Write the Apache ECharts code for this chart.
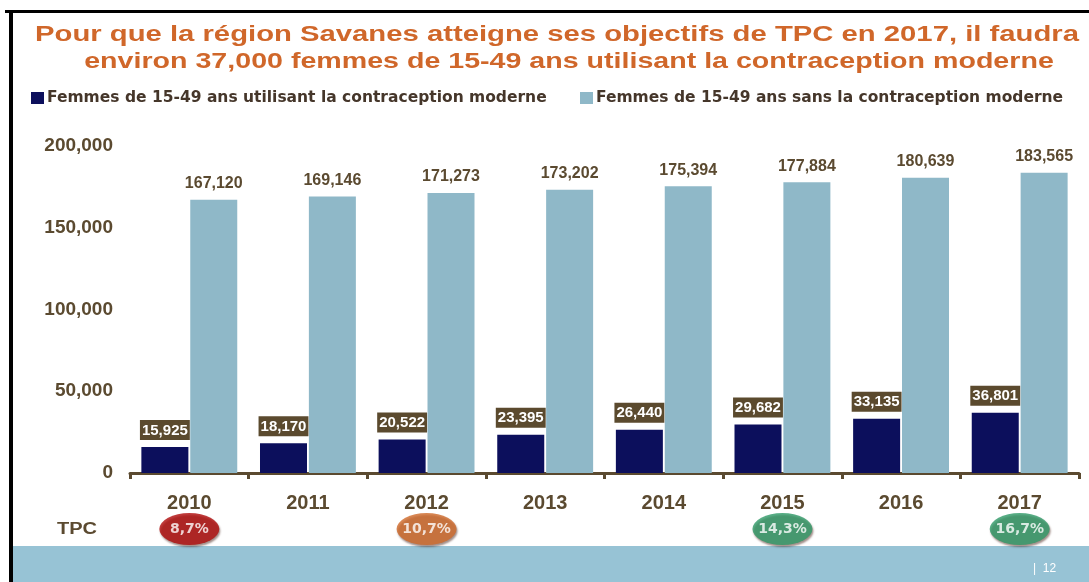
<!DOCTYPE html>
<html>
<head>
<meta charset="utf-8">
<script src="https://cdn.jsdelivr.net/npm/echarts@6/dist/echarts.min.js"></script>
<style>
  html, body { margin: 0; padding: 0; background: #fff; }
  #chart { width: 1089px; height: 582px; }
</style>
</head>
<body>
<div id="chart"></div>
<script>
var years = ['2010', '2011', '2012', '2013', '2014', '2015', '2016', '2017'];
var withContra = [15925, 18170, 20522, 23395, 26440, 29682, 33135, 36801];
var withoutContra = [167120, 169146, 171273, 173202, 175394, 177884, 180639, 183565];
var tpcLabels = ['8,7%', '', '10,7%', '', '', '14,3%', '', '16,7%'];
var tpcColors = ['#b00b0b', '', '#d06a2b', '', '', '#2f9a68', '', '#2f9a68'];
var seriesNames = [
  'Femmes de 15-49 ans utilisant la contraception moderne',
  'Femmes de 15-49 ans sans la contraception moderne'
];

var brown = '#5b4a30';
var font = 'Liberation Sans, Arial, sans-serif';
var wideFont = 'DejaVu Sans, Liberation Sans, sans-serif';

function fmt(v) {
  return String(v).replace(/\B(?=(\d{3})+(?!\d))/g, ',');
}

var tpcData = [];
tpcLabels.forEach(function (t, i) {
  if (t) {
    tpcData.push({
      value: [i, 0],
      label: { formatter: t },
      itemStyle: { color: tpcColors[i] }
    });
  }
});

function legendAt(left, name) {
  return {
    left: left,
    top: 90,
    padding: 0,
    itemWidth: 13,
    itemHeight: 12,
    itemGap: 0,
    icon: 'rect',
    textStyle: { color: '#45362a', fontSize: 15.5, fontWeight: 'bold', fontFamily: wideFont, padding: [0, 0, 0, -2] },
    data: [name]
  };
}

var chart = echarts.init(document.getElementById('chart'));
chart.setOption({
  animation: false,
  textStyle: { fontFamily: font },
  legend: [legendAt(31, seriesNames[0]), legendAt(580, seriesNames[1])],
  grid: [
    { left: 130, right: 10, top: 146, height: 327 },
    { left: 130, right: 10, top: 513, height: 32 }
  ],
  xAxis: [
    {
      type: 'category',
      gridIndex: 0,
      data: years,
      axisLine: { lineStyle: { color: brown, width: 3 } },
      axisTick: { show: true, length: 6, lineStyle: { color: brown, width: 3 } },
      axisLabel: { color: brown, fontSize: 20, fontWeight: 'bold', margin: 20 }
    },
    {
      type: 'category',
      gridIndex: 1,
      data: years,
      show: false
    }
  ],
  yAxis: [
    {
      type: 'value',
      gridIndex: 0,
      min: 0,
      max: 200000,
      interval: 50000,
      axisLine: { show: false },
      axisTick: { show: false },
      splitLine: { show: false },
      axisLabel: { color: brown, fontSize: 19, fontWeight: 'bold', margin: 17, formatter: fmt }
    },
    {
      type: 'value',
      gridIndex: 1,
      min: -1,
      max: 1,
      show: false
    }
  ],
  series: [
    {
      name: seriesNames[0],
      type: 'bar',
      data: withContra,
      barWidth: 47,
      barGap: '4%',
      itemStyle: { color: '#0c0f5c' },
      label: {
        show: true,
        position: 'top',
        distance: 7,
        color: '#fff',
        fontSize: 15,
        fontWeight: 'bold',
        backgroundColor: '#5b4a2e',
        padding: [3, 2, 2, 2],
        formatter: function (p) { return fmt(p.value); }
      }
    },
    {
      name: seriesNames[1],
      type: 'bar',
      data: withoutContra,
      barWidth: 47,
      itemStyle: { color: '#8fb8c8' },
      label: {
        show: true,
        position: 'top',
        distance: 8,
        color: brown,
        fontSize: 16,
        fontWeight: 'bold',
        formatter: function (p) { return fmt(p.value); }
      }
    },
    {
      type: 'scatter',
      xAxisIndex: 1,
      yAxisIndex: 1,
      data: tpcData,
      symbol: 'circle',
      symbolSize: [60, 32],
      itemStyle: { shadowColor: 'rgba(60,20,10,0.6)', shadowOffsetY: 2, shadowOffsetX: 1, shadowBlur: 2 },
      label: { show: true, position: 'inside', color: '#fff', fontSize: 14, fontWeight: 'bold', fontFamily: wideFont }
    }
  ],
  graphic: [
    { type: 'rect', shape: { x: 5, y: 10, width: 1084, height: 3 }, style: { fill: '#000' } },
    { type: 'rect', shape: { x: 9, y: 10, width: 4, height: 572 }, style: { fill: '#000' } },
    { type: 'rect', shape: { x: 13, y: 546, width: 1076, height: 36 }, style: { fill: '#97c3d5' } },
    {
      type: 'text', x: 557, y: 35, scaleX: 1.33,
      style: {
        text: 'Pour que la région Savanes atteigne ses objectifs de TPC en 2017, il faudra',
        fill: '#d0672a', font: 'bold 22px ' + font, textAlign: 'center', textVerticalAlign: 'middle'
      }
    },
    {
      type: 'text', x: 569, y: 62, scaleX: 1.3,
      style: {
        text: 'environ 37,000 femmes de 15-49 ans utilisant la contraception moderne',
        fill: '#d0672a', font: 'bold 22px ' + font, textAlign: 'center', textVerticalAlign: 'middle'
      }
    },
    {
      type: 'text', x: 57, y: 530, scaleX: 1.25,
      style: { text: 'TPC', fill: brown, font: 'bold 16px ' + font, textVerticalAlign: 'middle' }
    },
    { type: 'text', left: 1033, top: 563, style: { text: '|  12', fill: '#fff', font: '12px ' + font } }
  ]
});
</script>
</body>
</html>
